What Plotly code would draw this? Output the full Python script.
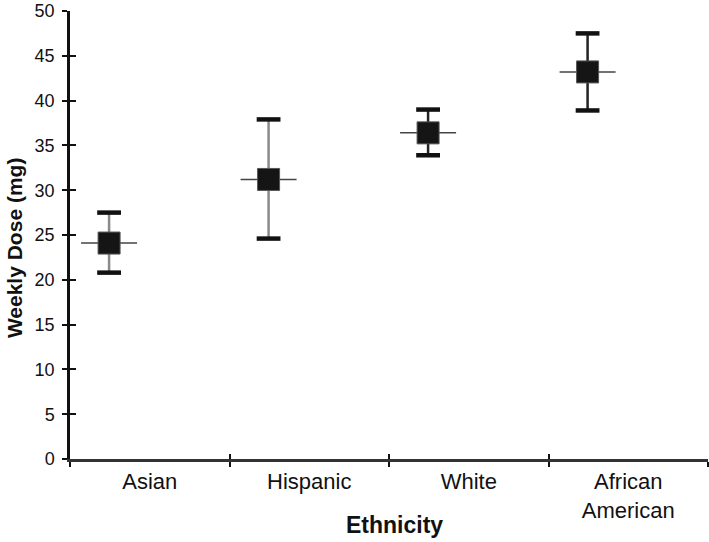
import plotly.graph_objects as go

categories = ["Asian", "Hispanic", "White", "African American"]
tick_text = ["Asian", "Hispanic", "White", "African<br>American"]
mean_dose = [24.1, 31.2, 36.4, 43.2]
upper_dose = [27.5, 37.9, 39.0, 47.5]
lower_dose = [20.8, 24.6, 33.9, 38.9]
stem_colors = ["#8a8a8a", "#8a8a8a", "#222222", "#222222"]
y_ticks = list(range(0, 51, 5))

OFFSET = 0.245
xpos = [i + OFFSET for i in range(len(categories))]
label_pos = [i + 0.5 for i in range(len(categories))]
FONT = "Liberation Sans, Arial, sans-serif"

fig = go.Figure()

# error stems
for x, m, u, l, c in zip(xpos, mean_dose, upper_dose, lower_dose, stem_colors):
    fig.add_trace(go.Scatter(
        x=[x], y=[m], mode="markers", marker=dict(size=1, color="rgba(0,0,0,0)"),
        error_y=dict(type="data", symmetric=False, array=[u - m], arrayminus=[m - l],
                     color=c, thickness=2.5, width=0),
        showlegend=False, hoverinfo="skip"))

# caps
fig.add_trace(go.Scatter(
    x=xpos + xpos, y=upper_dose + lower_dose, mode="markers",
    marker=dict(symbol="line-ew", size=17, line=dict(width=4.5, color="#111111")),
    showlegend=False, hoverinfo="skip"))

# mean line
fig.add_trace(go.Scatter(
    x=xpos, y=mean_dose, mode="markers",
    marker=dict(symbol="line-ew", size=40, line=dict(width=1.5, color="#444444")),
    showlegend=False, hoverinfo="skip"))

# squares
fig.add_trace(go.Scatter(
    x=xpos, y=mean_dose, mode="markers",
    marker=dict(symbol="square", size=22, color="#151515", line=dict(width=1, color="#555555")),
    showlegend=False, name="Weekly dose"))

# dummy trace for overlay axes (inside tick halves)
fig.add_trace(go.Scatter(x=[0], y=[0], xaxis="x2", yaxis="y2", mode="markers",
                         marker=dict(size=1, color="rgba(0,0,0,0)"), showlegend=False,
                         hoverinfo="skip"))

fig.update_layout(
    width=709, height=542,
    margin=dict(l=70, r=1, t=11, b=83),
    paper_bgcolor="white", plot_bgcolor="white",
    font=dict(family=FONT, color="#111111"),
    xaxis=dict(
        range=[0, 4], tickmode="array", tickvals=label_pos, ticktext=tick_text,
        ticks="", showgrid=False, zeroline=False, automargin=False,
        showline=True, linecolor="#333333", linewidth=3,
        tickfont=dict(size=22, family=FONT, color="#111111"),
        ticklabelstandoff=1, ticklabeloverflow="allow",
        minor=dict(tick0=0, dtick=1, ticks="outside", ticklen=5, tickwidth=2, tickcolor="#111111"),
    ),
    yaxis=dict(
        range=[0, 50], tickmode="array", tickvals=y_ticks,
        ticks="outside", ticklen=5, tickwidth=2, tickcolor="#111111",
        showgrid=False, zeroline=False, automargin=False,
        showline=True, linecolor="#111111", linewidth=2.5,
        tickfont=dict(size=18, family=FONT, color="#111111"),
        ticklabelstandoff=4, ticklabeloverflow="allow",
    ),
    xaxis2=dict(range=[0, 4], overlaying="x", anchor="y2", side="bottom",
                tickmode="array", tickvals=[0, 1, 2, 3, 4], ticks="inside", ticklen=5,
                tickwidth=2, tickcolor="#111111", showticklabels=False,
                showgrid=False, zeroline=False, showline=False, automargin=False),
    yaxis2=dict(range=[0, 50], overlaying="y", anchor="x2", side="left",
                tickmode="array", tickvals=y_ticks, ticks="inside", ticklen=6,
                tickwidth=2, tickcolor="#111111", showticklabels=False,
                showgrid=False, zeroline=False, showline=False, automargin=False),
    annotations=[
        dict(text="<b>Ethnicity</b>", xref="paper", yref="paper", x=0.509, y=-0.147,
             xanchor="center", yanchor="middle", showarrow=False,
             font=dict(size=23, family=FONT, color="#111111")),
        dict(text="<b>Weekly Dose (mg)</b>", xref="paper", yref="paper", x=-0.086, y=0.471,
             xanchor="center", yanchor="middle", showarrow=False, textangle=-90,
             font=dict(size=21, family=FONT, color="#111111")),
    ],
)

fig.write_html("out.html", config={"displayModeBar": False},
               post_script="document.body.style.margin='0';")
